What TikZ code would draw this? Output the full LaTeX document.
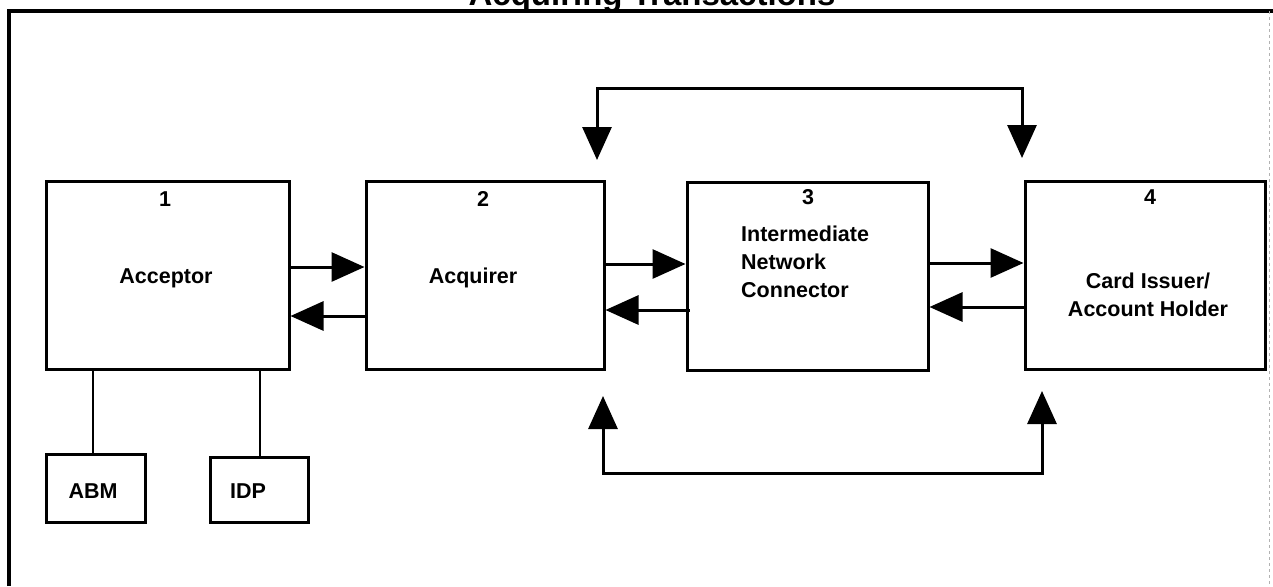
\documentclass[tikz,border=0pt]{standalone}
\usepackage{fontspec}
\setmainfont{Liberation Sans}
\usetikzlibrary{arrows.meta}
\begin{document}
\begin{tikzpicture}[x=1pt,y=-1pt,
  box/.style={draw,line width=3pt,minimum width=#1,inner sep=0pt},
  lbl/.style={font=\bfseries\fontsize{21.5}{28}\selectfont,inner sep=0pt},
  arr/.style={line width=3pt,-{Triangle[length=33pt,width=29pt]}},
  arrb/.style={line width=3pt,{Triangle[length=33pt,width=29pt]}-{Triangle[length=33pt,width=29pt]}},
  ln/.style={line width=2.5pt}]
\useasboundingbox (0,0) rectangle (1273,586);
\clip (0,0) rectangle (1273,586);
% title (cut off at the top edge, as in the reference)
\node[font=\bfseries\fontsize{33}{36}\selectfont,anchor=base,inner sep=0pt] (title) at (652,6) {Acquiring Transactions};
% frame
\draw[line width=4pt] (9,586) -- (9,11) -- (1273,11);
\draw[line width=0.6pt,gray!60,dashed] (1269,11) -- (1269,586);
% main boxes
\node[box=243pt,minimum height=188pt] (b1) at (167.5,275) {};
\node[box=238pt,minimum height=188pt] (b2) at (485,275) {};
\node[box=241pt,minimum height=188pt] (b3) at (807.5,276) {};
\node[box=240pt,minimum height=188pt] (b4) at (1145,275) {};
% small boxes
\node[box=99pt,minimum height=68pt] (abm) at (95.5,488) {};
\node[box=98pt,minimum height=65pt] (idp) at (259,489.5) {};
% texts
\node[lbl] (n1) at (165,199) {1};
\node[lbl] (t1) at (166,278) {Acceptor};
\node[lbl] (n2) at (483,199) {2};
\node[lbl] (t2) at (473,278) {Acquirer};
\node[lbl] (n3) at (808,197) {3};
\node[lbl,anchor=north west,align=left] (t3) at (741,226) {Intermediate\\Network\\Connector};
\node[lbl] (n4) at (1150,197) {4};
\node[lbl,align=center] (t4) at (1148,295) {Card Issuer/\\Account Holder};
\node[lbl] (tabm) at (93,491) {ABM};
\node[lbl] (tidp) at (248,491) {IDP};
% connectors to small boxes
\draw[ln] (abm.north -| 93,0) -- (b1.south -| 93,0);
\draw[ln] (idp.north -| 260,0) -- (b1.south -| 260,0);
% horizontal arrows
\draw[arr] (b1.east |- 0,267) -- (b2.west |- 0,267);
\draw[arr] (b2.west |- 0,316) -- (b1.east |- 0,316);
\draw[arr] (b2.east |- 0,264) -- (b3.west |- 0,264);
\draw[arr] ([xshift=4pt]b3.west |- 0,310) -- (b2.east |- 0,310);
\draw[arr] (b3.east |- 0,263) -- (b4.west |- 0,263);
\draw[arr] (b4.west |- 0,307) -- (b3.east |- 0,307);
% top loop
\coordinate (ta) at (597,160);
\coordinate (tb) at (1022,158);
\coordinate (tc) at (1022,88);
\draw[arrb] (ta) |- (tc) -- (tb);
% bottom loop
\coordinate (ba) at (603,396);
\coordinate (bb) at (1042,391);
\coordinate (bc) at (1042,473);
\draw[arrb] (ba) |- (bc) -- (bb);
\end{tikzpicture}
\end{document}
